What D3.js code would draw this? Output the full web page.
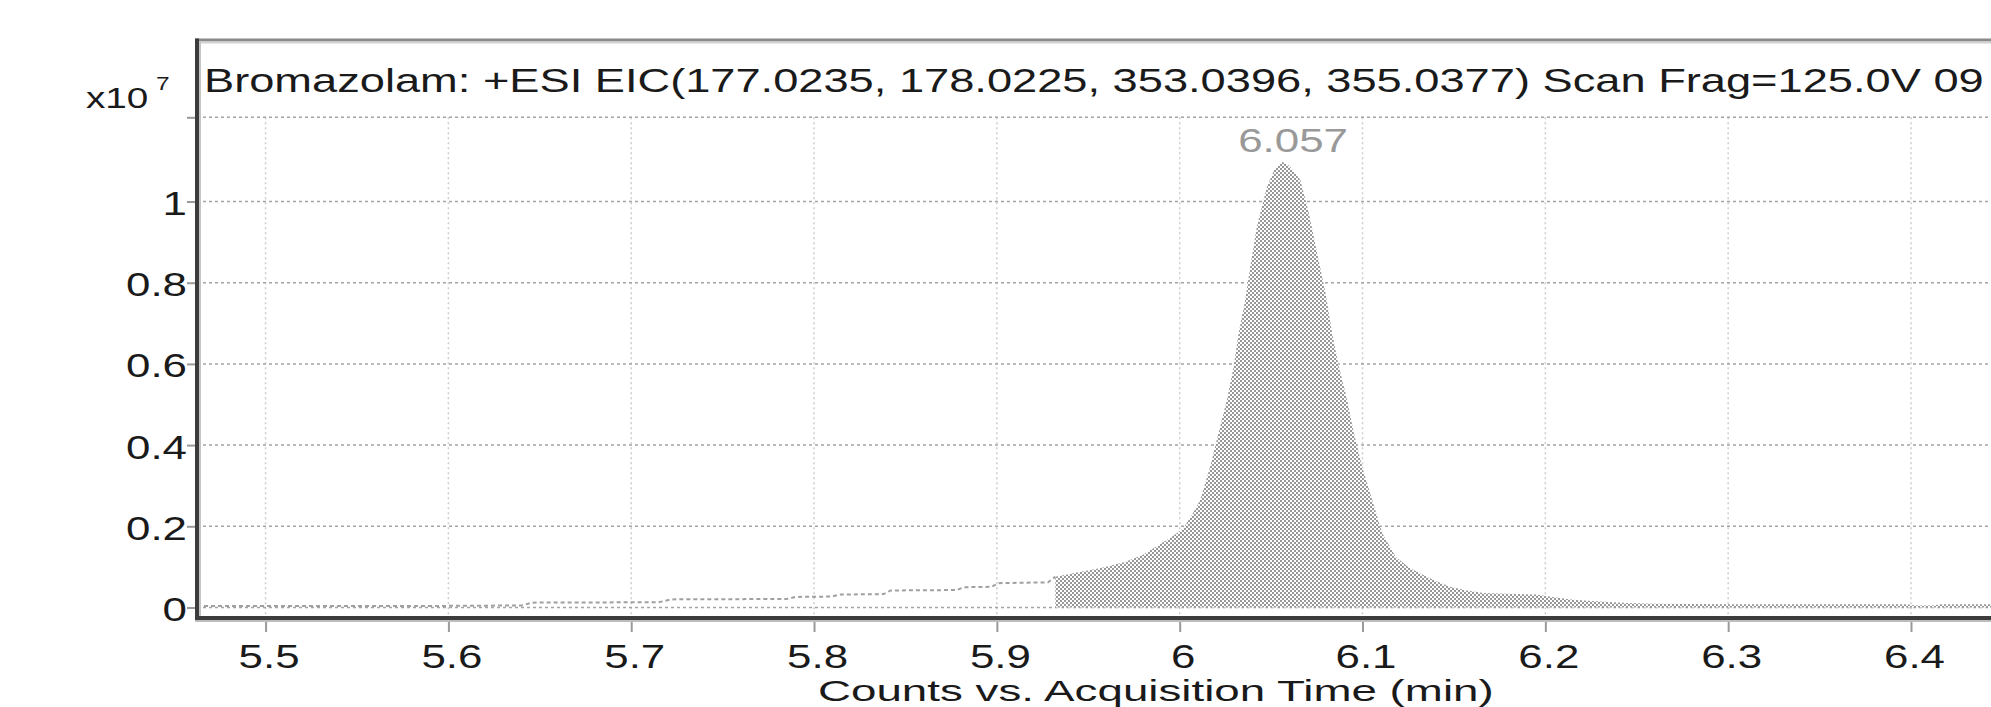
<!DOCTYPE html>
<html><head><meta charset="utf-8">
<script src="https://cdn.jsdelivr.net/npm/d3@7"></script>
<style>
html,body{margin:0;padding:0;background:#fff;overflow:hidden}
svg{display:block}
text{font-family:"Liberation Sans",Arial,sans-serif}
</style></head><body>
<svg id="c" width="1991" height="707"></svg>
<script>
// ---- data ----
const titleText = "Bromazolam: +ESI EIC(177.0235, 178.0225, 353.0396, 355.0377) Scan Frag=125.0V 09";
const xAxisTitle = "Counts vs. Acquisition Time (min)";
const yMultiplierBase = "x10";
const yMultiplierExp = "7";
const xTicks = [5.5, 5.6, 5.7, 5.8, 5.9, 6.0, 6.1, 6.2, 6.3, 6.4];
const xTickLabels = ["5.5", "5.6", "5.7", "5.8", "5.9", "6", "6.1", "6.2", "6.3", "6.4"];
const yTicks = [0, 0.2, 0.4, 0.6, 0.8, 1];
const yTickLabels = ["0", "0.2", "0.4", "0.6", "0.8", "1"];
const peakTime = 6.056;
const peakLabel = "6.057";
const integrationStart = 5.932;
// acquisition time (min)
const times = [5.4625, 5.50, 5.60, 5.640, 5.646, 5.715, 5.722, 5.785, 5.790, 5.810, 5.814, 5.838, 5.842, 5.878,
  5.882, 5.897, 5.901, 5.928, 5.932, 5.946, 5.957, 5.970, 5.980, 5.989, 5.996, 6.002, 6.007, 6.0112, 6.0167,
  6.0212, 6.0258, 6.0295, 6.0322, 6.0358, 6.0386, 6.0422, 6.0477, 6.052, 6.056, 6.060, 6.066, 6.0707, 6.0752,
  6.0798, 6.0834, 6.0871, 6.0916, 6.0953, 6.0998, 6.1053, 6.1108, 6.1181, 6.125, 6.1316, 6.140, 6.148, 6.157,
  6.166, 6.180, 6.195, 6.205, 6.215, 6.230, 6.245, 6.260, 6.300, 6.350, 6.398, 6.402, 6.412, 6.416, 6.4815];
// counts (x10^7)
const counts = [0.004, 0.004, 0.004, 0.005, 0.012, 0.013, 0.020, 0.021, 0.026, 0.027, 0.032, 0.033, 0.042, 0.043,
  0.050, 0.051, 0.060, 0.062, 0.076, 0.088, 0.097, 0.112, 0.130, 0.155, 0.175, 0.195, 0.230, 0.265, 0.347,
  0.429, 0.511, 0.593, 0.675, 0.757, 0.839, 0.938, 1.036, 1.080, 1.098, 1.088, 1.053, 0.971, 0.872,
  0.774, 0.675, 0.593, 0.511, 0.429, 0.347, 0.265, 0.183, 0.125, 0.100, 0.084, 0.065, 0.051, 0.042,
  0.036, 0.034, 0.032, 0.025, 0.019, 0.015, 0.011, 0.009, 0.008, 0.008, 0.008, 0.005, 0.005, 0.008, 0.008];

const xDomain = [5.4625, 6.4815];
const yDomain = [-0.0234, 1.2074];

// ---- layout ----
const svg = d3.select("#c");
const L = 197, R = 2060, T = 117.3, B = 617, FRAME_TOP = 40;
const SX = 1.29; // horizontal stretch of the original rendering
const x = d3.scaleLinear().domain(xDomain).range([L, R]);
const y = d3.scaleLinear().domain(yDomain).range([B, T]);
const data = times.map((t, i) => ({t, v: counts[i]}));

// pattern
const defs = svg.append("defs");
const pat = defs.append("pattern").attr("id", "ht").attr("width", 4).attr("height", 4)
  .attr("patternUnits", "userSpaceOnUse");
pat.append("rect").attr("width", 4).attr("height", 4).attr("fill", "#fff");
pat.append("rect").attr("width", 2).attr("height", 2).attr("fill", "#989898");
pat.append("rect").attr("x", 2).attr("y", 2).attr("width", 2).attr("height", 2).attr("fill", "#989898");
defs.append("clipPath").attr("id", "pc").append("rect")
  .attr("x", L).attr("y", T).attr("width", R - L).attr("height", B - T);

// gridlines
const grid = svg.append("g");
grid.selectAll("line.v").data(xTicks).join("line")
  .attr("x1", d => x(d)).attr("x2", d => x(d)).attr("y1", T).attr("y2", B - 2)
  .attr("stroke", "#cccccc").attr("stroke-width", 1.5).attr("stroke-dasharray", "2,3");
grid.selectAll("line.h").data(yTicks.concat([yDomain[1]])).join("line")
  .attr("x1", L).attr("x2", R).attr("y1", d => y(d)).attr("y2", d => y(d))
  .attr("stroke", "#a4a4a4").attr("stroke-width", 1.5).attr("stroke-dasharray", "3,3");

// peak area
const plot = svg.append("g").attr("clip-path", "url(#pc)");
const areaData = data.filter(d => d.t >= integrationStart);
plot.append("path").datum(areaData)
  .attr("d", d3.area().x(d => x(d.t)).y0(y(0)).y1(d => y(d.v)))
  .attr("fill", "url(#ht)");
const lineData = data.filter(d => d.t <= integrationStart);
plot.append("path").datum(lineData)
  .attr("d", d3.line().x(d => x(d.t)).y(d => y(d.v)))
  .attr("fill", "none").attr("stroke", "#a0a0a0").attr("stroke-width", 2).attr("stroke-dasharray", "4,3");

// axes
const yAxis = d3.axisLeft(y).tickValues(yTicks.concat([yDomain[1]])).tickSize(10).tickSizeOuter(0).tickPadding(0)
  .tickFormat(d => { const i = yTicks.indexOf(d); return i >= 0 ? yTickLabels[i] : ""; });
const gy = svg.append("g").attr("transform", `translate(${L},0)`).call(yAxis);
gy.select(".domain").remove();
gy.selectAll(".tick line").attr("stroke", "#9a9a9a").attr("stroke-width", 2);
gy.selectAll(".tick text").attr("x", 0).attr("dy", null).attr("y", 0)
  .attr("transform", `translate(-10,13) scale(${SX},1)`)
  .attr("font-size", 34).attr("fill", "#1a1a1a").attr("font-family", null);

const xAxis = d3.axisBottom(x).tickValues(xTicks).tickSize(12).tickSizeOuter(0).tickPadding(0)
  .tickFormat((d, i) => xTickLabels[i]);
const gx = svg.append("g").attr("transform", `translate(0,${B + 3})`).call(xAxis);
gx.select(".domain").remove();
gx.selectAll(".tick line").attr("stroke", "#9a9a9a").attr("stroke-width", 2);
gx.selectAll(".tick text").attr("y", 0).attr("dy", null)
  .attr("transform", `translate(3,48) scale(${SX},1)`)
  .attr("font-size", 34).attr("fill", "#1a1a1a").attr("font-family", null);

// axis lines & frame
svg.append("line").attr("x1", L - 2).attr("x2", 1991).attr("y1", FRAME_TOP).attr("y2", FRAME_TOP)
  .attr("stroke", "#8a8a8a").attr("stroke-width", 3);
svg.append("line").attr("x1", L).attr("x2", 1991).attr("y1", FRAME_TOP + 2.5).attr("y2", FRAME_TOP + 2.5)
  .attr("stroke", "#d2d2d2").attr("stroke-width", 2);
svg.append("line").attr("x1", L).attr("x2", L).attr("y1", FRAME_TOP - 1.5).attr("y2", B + 5)
  .attr("stroke", "#3c3c3c").attr("stroke-width", 4);
svg.append("line").attr("x1", L + 3).attr("x2", L + 3).attr("y1", FRAME_TOP + 2).attr("y2", B)
  .attr("stroke", "#c4c4c4").attr("stroke-width", 2);
svg.append("line").attr("x1", L - 2).attr("x2", 1991).attr("y1", B + 1).attr("y2", B + 1)
  .attr("stroke", "#3c3c3c").attr("stroke-width", 4);
svg.append("line").attr("x1", L - 2).attr("x2", 1991).attr("y1", B + 4).attr("y2", B + 4)
  .attr("stroke", "#bdbdbd").attr("stroke-width", 2);

// title (fit so the last characters stay inside the picture)
const title = svg.append("text").attr("font-size", 34).attr("fill", "#1a1a1a").text(titleText);
const fullLen = title.node().getComputedTextLength();
const tsx = (1984 - 204) / fullLen;
title.attr("transform", `translate(204,91.7) scale(${tsx},1)`);

// multiplier
svg.append("text").attr("font-size", 30).attr("fill", "#1a1a1a").text(yMultiplierBase)
  .attr("transform", `translate(86,108.3) scale(${SX},1)`);
svg.append("text").attr("font-size", 19).attr("fill", "#1a1a1a").text(yMultiplierExp)
  .attr("transform", `translate(156,90) scale(${SX},1)`);

// x axis title
const xt = svg.append("text").attr("font-size", 30).attr("fill", "#1a1a1a").text(xAxisTitle);
const xtLen = xt.node().getComputedTextLength();
xt.attr("transform", `translate(818,700.5) scale(${(1494 - 818) / xtLen},1)`);

// peak label
const peakV = d3.max(counts);
svg.append("text").attr("font-size", 34).attr("fill", "#999999").attr("text-anchor", "middle")
  .text(peakLabel)
  .attr("transform", `translate(${x(peakTime) + 11},${y(peakV) - 10}) scale(${SX},1)`);
</script>
</body></html>
